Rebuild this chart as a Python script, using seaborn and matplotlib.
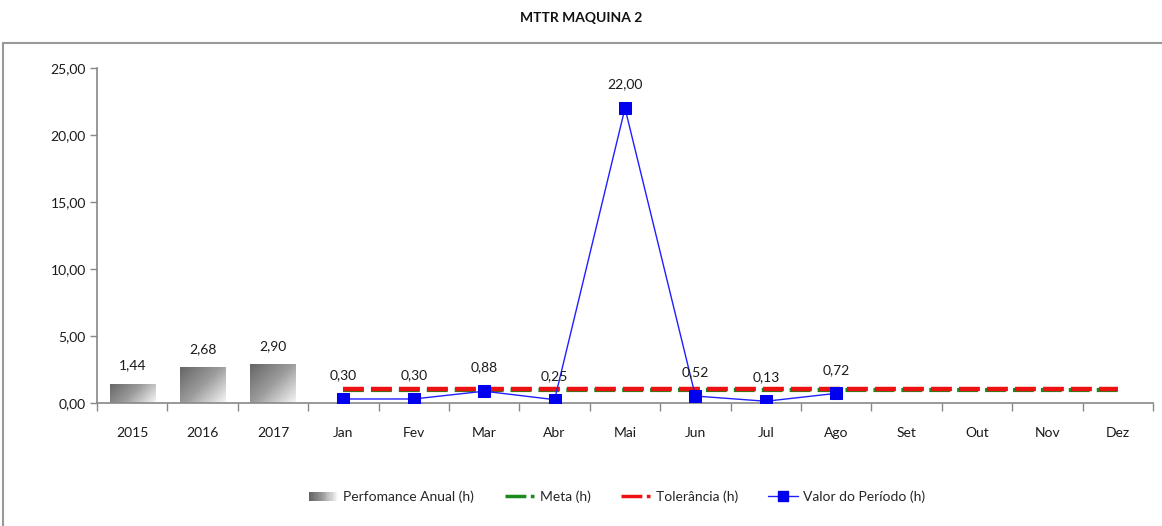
import numpy as np
import pandas as pd
import matplotlib
matplotlib.use("Agg")
import matplotlib.pyplot as plt
import seaborn as sns
from matplotlib.patches import Rectangle, Patch
from matplotlib.lines import Line2D
from matplotlib.legend_handler import HandlerPatch
from matplotlib.colors import LinearSegmentedColormap

# ---- data ----
categories = ["2015", "2016", "2017", "Jan", "Fev", "Mar", "Abr", "Mai",
              "Jun", "Jul", "Ago", "Set", "Out", "Nov", "Dez"]
years = ["2015", "2016", "2017"]
annual_values = [1.44, 2.68, 2.90]
months = ["Jan", "Fev", "Mar", "Abr", "Mai", "Jun", "Jul", "Ago"]
period_values = [0.30, 0.30, 0.88, 0.25, 22.00, 0.52, 0.13, 0.72]
line_months = ["Jan", "Fev", "Mar", "Abr", "Mai", "Jun", "Jul", "Ago",
               "Set", "Out", "Nov", "Dez"]
meta_value = 0.97
tolerancia_value = 1.05
yticks = [0, 5, 10, 15, 20, 25]

sns.set_theme(style="white")
plt.rcParams['font.family'] = ['Lato', 'DejaVu Sans']

W, H = 1162, 526
fig = plt.figure(figsize=(W / 100, H / 100), dpi=100)
ax = fig.add_axes([97 / W, 1 - 403 / H, (1153 - 97) / W, (403 - 68) / H])

pos = {c: i for i, c in enumerate(categories)}

# bars
df_bar = pd.DataFrame({"cat": years, "val": annual_values})
sns.barplot(data=df_bar, x="cat", y="val", order=categories, ax=ax,
            width=0.64, color="#909090", saturation=1)

# gradient fill of bars (dark top-left -> white bottom-right)
cmap = LinearSegmentedColormap.from_list("g", ["#666666", "#9c9c9c", "#f6f6f6"])
for p in list(ax.patches):
    x0, y0 = p.get_x(), p.get_y()
    w, h = p.get_width(), p.get_height()
    if h <= 0:
        continue
    # pixel-aspect aware diagonal gradient
    npx_w = 45.0
    npx_h = max(h * 13.4, 1.0)
    yy, xx = np.mgrid[0:1:60j, 0:1:60j]
    d = (xx * npx_w + (1 - yy) * npx_h) / (npx_w + npx_h)
    p.set_facecolor("none")
    p.set_edgecolor("none")
    im = ax.imshow(d, extent=[x0, x0 + w, y0, y0 + h], origin="lower",
                   cmap=cmap, aspect="auto", zorder=2, interpolation="bilinear",
                   vmin=0, vmax=1)
    im.set_clip_path(p)

# meta / tolerancia lines
lx = [pos[m] for m in line_months]
df_lines = pd.DataFrame({"x": lx, "meta": [meta_value] * len(lx),
                         "tol": [tolerancia_value] * len(lx)})
sns.lineplot(data=df_lines, x="x", y="meta", ax=ax, color="#1a8a1a",
             linewidth=3, linestyle=(0, (5, 1.7)), zorder=3)
sns.lineplot(data=df_lines, x="x", y="tol", ax=ax, color="#ee1111",
             linewidth=3.2, linestyle=(0, (4.7, 1.6)), zorder=4)

# period line
df_per = pd.DataFrame({"x": [pos[m] for m in months], "val": period_values})
sns.lineplot(data=df_per, x="x", y="val", ax=ax, color="#1f1fff",
             linewidth=1.0, marker="s", markersize=8, markeredgecolor="#0000ee",
             markerfacecolor="#0000ee", zorder=5)

def fmt(v):
    return f"{v:.2f}".replace(".", ",")

for c, v in zip(years, annual_values):
    ax.annotate(fmt(v), (pos[c], v), xytext=(0, 13), textcoords="offset points",
                ha="center", va="center", fontsize=10, color="#1a1a1a")
for m, v in zip(months, period_values):
    ax.annotate(fmt(v), (pos[m], v), xytext=(0, 17), textcoords="offset points",
                ha="center", va="center", fontsize=10, color="#1a1a1a", zorder=6)

# axes styling
ax.set_xlim(-0.5, 14.5)
ax.set_ylim(0, 25)
ax.set_yticks(yticks)
ax.set_yticklabels([fmt(v) for v in yticks], fontsize=10, color="#1a1a1a")
ax.set_xticks(np.arange(-0.5, 15, 1.0))
ax.set_xticklabels([])
ax.set_xticks(np.arange(0, 15), minor=True)
ax.set_xticklabels(categories, minor=True, fontsize=10, color="#1a1a1a")
ax.tick_params(axis="x", which="major", direction="out", length=6, width=1,
               color="#888888", bottom=True)
ax.tick_params(axis="x", which="minor", length=0, pad=17, bottom=True)
ax.tick_params(axis="y", direction="out", length=5, width=1, color="#888888",
               left=True, pad=3)
ax.set_xlabel("")
ax.set_ylabel("")
for s in ["top", "right"]:
    ax.spines[s].set_visible(False)
for s in ["left", "bottom"]:
    ax.spines[s].set_color("#888888")
    ax.spines[s].set_linewidth(1.2)
ax.grid(False)
if ax.get_legend():
    ax.get_legend().remove()

# title
fig.text(0.5, 1 - 18 / H, "MTTR MAQUINA 2", ha="center", va="center",
         fontsize=10, fontweight="bold", color="#111111")

# chart frame
frame = Rectangle((3 / W, -0.05), 1.1, 1 - 43 / H + 0.05, transform=fig.transFigure,
                  fill=False, edgecolor="#999999", linewidth=1.5, zorder=0)
fig.patches.append(frame)

# legend
class GradHandler(HandlerPatch):
    def create_artists(self, legend, orig_handle, xdescent, ydescent, width,
                       height, fontsize, trans):
        arts = []
        n = 14
        for i in range(n):
            c = cmap(i / (n - 1))
            r = Rectangle((-xdescent + i * width / n, -ydescent), width / n + 0.3,
                          height, facecolor=c, edgecolor="none", transform=trans)
            arts.append(r)
        return arts

h_bar = Patch(facecolor="#909090", label="Perfomance Anual (h)")
h_meta = Line2D([], [], color="#1a8a1a", linewidth=2.5, linestyle=(0, (6, 1.3)),
                label="Meta (h)")
h_tol = Line2D([], [], color="#ee1111", linewidth=2.5, linestyle=(0, (6, 1.3)),
               label="Tolerância (h)")
h_per = Line2D([], [], color="#1f1fff", linewidth=1.0, marker="s", markersize=7,
               markerfacecolor="#0000ee", markeredgecolor="#0000ee",
               label="Valor do Período (h)")
fig.legend(handles=[h_bar, h_meta, h_tol, h_per],
           loc="center", bbox_to_anchor=(617 / W, 1 - 497 / H), ncol=4,
           frameon=False, fontsize=10, handlelength=2.1, handletextpad=0.4,
           columnspacing=2.2, handler_map={Patch: GradHandler()})

fig.savefig("out.png", dpi=100)
